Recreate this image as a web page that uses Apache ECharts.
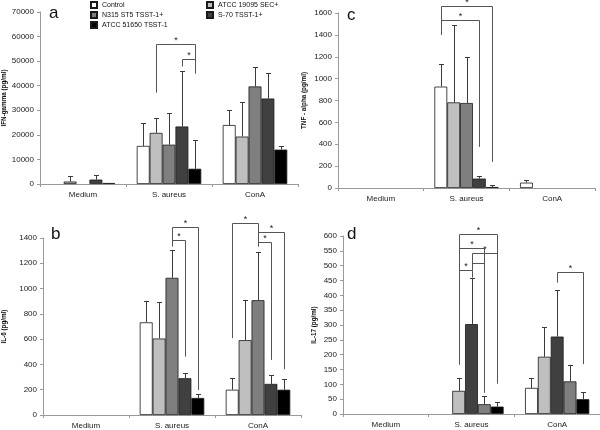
<!DOCTYPE html>
<html><head><meta charset="utf-8">
<script src="https://cdn.jsdelivr.net/npm/echarts@6/dist/echarts.min.js"></script>
<style>html,body{margin:0;padding:0;background:#fff}#c{width:600px;height:430px}</style>
</head><body><div id="c"></div>
<script>
const categories = ['Medium', 'S. aureus', 'ConA'];
const seriesNames = ['Control', 'ATCC 19095 SEC+', 'N315 ST5 TSST-1+', 'S-70 TSST-1+', 'ATCC 51650 TSST-1'];

// a: IFN-gamma (per series, per category)
const ifnMeans = [[null, 15500, 24000], [1000, 20800, 19300], [null, 16000, 39700], [1800, 23400, 34800], [400, 6200, 14000]];
const ifnErrTop = [[null, 25000, 30300], [3400, 26700, 33500], [null, 29000, 47800], [3500, 46000, 45300], [null, 18000, 15600]];
// brackets: [category, fromSeries, toSeries, top, leftBottom, rightBottom, star]
const ifnBrackets = [[1, 1, 4, 57000, 37200, 45000, 1], [1, 3, 4, 50800, 47800, 45000, 1]];

// b: IL-6
const il6Means = [[null, 733, 200], [null, 605, 592], [null, 1085, 908], [null, 291, 246], [null, 135, 200]];
const il6ErrTop = [[null, 905, 290], [null, 893, 910], [null, 1307, 1286], [null, 335, 317], [null, 163, 288]];
const il6Brackets = [[1, 2, 4, 1487, 1334, 198, 1], [1, 2, 3, 1381, 1334, 462, 1],
  [2, 0, 2, 1519, 608, 1334, 1], [2, 2, 4, 1445, 1334, 362, 1], [2, 2, 3, 1365, 1334, 436, 1]];

// c: TNF-alpha
const tnfMeans = [[null, 927, 49], [null, 783, null], [null, 777, null], [null, 86, null], [null, 9, null]];
const tnfErrTop = [[null, 1132, 76], [null, 1493, null], [null, 1202, null], [null, 110, null], [null, 30, null]];
const tnfBrackets = [[1, 0, 4, 1667, 1401, 239, 1], [1, 0, 3, 1532, 1401, 376, 1]];

// d: IL-17
const il17Means = [[null, null, 88], [null, 78, 193], [null, 303, 261], [null, 33, 110], [null, 25, 50]];
const il17ErrTop = [[null, null, 120], [null, 123, 292], [null, 460, 419], [null, 62, 164], [null, 42, 73]];
const il17Brackets = [[1, 1, 4, 607, 167, 103, 1], [1, 1, 3, 558, 167, 72, 1], [1, 2, 4, 544, 485, 103, 1],
  [1, 2, 3, 510, 485, 72, 0], [1, 1, 2, 485, 167, 460, 1], [2, 2, 4, 478, 443, 168, 1]];

const stdColors = ['#ffffff', '#bfbfbf', '#7f7f7f', '#404040', '#000000'];
const dColors = ['#ffffff', '#bfbfbf', '#404040', '#7f7f7f', '#000000'];
const FONT = 'Liberation Sans';

const panels = [
  { letter: 'a', means: ifnMeans, errs: ifnErrTop, brackets: ifnBrackets, max: 70000, interval: 10000,
    name: 'IFN-gamma (pg/ml)', nameGap: 33, colors: stdColors,
    grid: { left: 40, top: 12, width: 258, height: 172 }, lpos: { left: 49, top: 5 } },
  { letter: 'c', means: tnfMeans, errs: tnfErrTop, brackets: tnfBrackets, max: 1600, interval: 200,
    name: 'TNF - alpha (pg/ml)', nameGap: 31, colors: stdColors,
    grid: { left: 338, top: 13, width: 257, height: 175 }, lpos: { left: 347, top: 7 } },
  { letter: 'b', means: il6Means, errs: il6ErrTop, brackets: il6Brackets, max: 1400, interval: 200,
    name: 'IL-6 (pg/ml)', nameGap: 36, colors: stdColors,
    grid: { left: 43, top: 238, width: 258, height: 177 }, lpos: { left: 51, top: 226 } },
  { letter: 'd', means: il17Means, errs: il17ErrTop, brackets: il17Brackets, max: 600, interval: 50,
    name: 'IL-17 (pg/ml)', nameGap: 26, colors: dColors,
    grid: { left: 343, top: 236, width: 257, height: 178 }, lpos: { left: 347, top: 226 } }
];

function barX(api, cat, si) {
  const band = api.size([1, 0])[0];
  return api.coord([cat, 0])[0] + (si - 2) * band * 0.15;
}
function errRender(params, api) {
  const cat = api.value(0), si = api.value(1);
  const cx = Math.round(barX(api, cat, si)) + 0.5;
  const y1 = api.coord([cat, api.value(2)])[1];
  const y2 = Math.round(api.coord([cat, api.value(3)])[1]) + 0.5;
  const st = { stroke: '#3a3a3a', lineWidth: 1 };
  return { type: 'group', children: [
    { type: 'line', shape: { x1: cx, y1: y1, x2: cx, y2: y2 }, style: st },
    { type: 'line', shape: { x1: cx - 2.5, y1: y2, x2: cx + 2.5, y2: y2 }, style: st }
  ] };
}
function bracketRender(params, api) {
  const cat = api.value(0);
  const x1 = Math.round(barX(api, cat, api.value(1))) + 0.5;
  const x2 = Math.round(barX(api, cat, api.value(2))) + 0.5;
  const yT = Math.round(api.coord([cat, api.value(3)])[1]) + 0.5;
  const yL = api.coord([cat, api.value(4)])[1];
  const yR = api.coord([cat, api.value(5)])[1];
  const children = [
    { type: 'polyline', shape: { points: [[x1, yL], [x1, yT], [x2, yT], [x2, yR]] },
      style: { stroke: '#555', lineWidth: 1, fill: null } }
  ];
  if (api.value(6)) {
    children.push({ type: 'text', style: { text: '*', x: (x1 + x2) / 2, y: yT + 1, align: 'center',
      verticalAlign: 'bottom', fontSize: 9, fontFamily: FONT, fill: '#222' } });
  }
  return { type: 'group', children: children };
}

const grids = [], xAxes = [], yAxes = [], series = [], titles = [];
panels.forEach((p, pi) => {
  grids.push(Object.assign({ containLabel: false }, p.grid));
  xAxes.push({ type: 'category', gridIndex: pi, data: categories,
    axisLine: { lineStyle: { color: '#9a9a9a', width: 1 } },
    axisTick: { show: true, length: 3, lineStyle: { color: '#9a9a9a' } },
    axisLabel: { fontSize: 8, color: '#222', fontFamily: FONT, margin: 7 } });
  yAxes.push({ type: 'value', gridIndex: pi, min: 0, max: p.max, interval: p.interval,
    name: p.name, nameLocation: 'middle', nameGap: p.nameGap,
    nameTextStyle: { fontSize: 6.3, fontWeight: 'bold', color: '#111', fontFamily: FONT },
    axisLine: { show: true, lineStyle: { color: '#9a9a9a', width: 1 } },
    axisTick: { show: true, length: 3, lineStyle: { color: '#9a9a9a' } },
    splitLine: { show: false },
    axisLabel: { fontSize: 8, color: '#222', fontFamily: FONT, margin: 6, formatter: v => String(v) } });
  seriesNames.forEach((nm, si) => {
    series.push({ type: 'bar', name: nm, xAxisIndex: pi, yAxisIndex: pi, data: p.means[si],
      barGap: '0%', barCategoryGap: '25%',
      itemStyle: { color: p.colors[si], borderColor: '#1a1a1a', borderWidth: 0.8 },
      emphasis: { disabled: true }, animation: false });
  });
  const errData = [];
  p.means.forEach((arr, si) => arr.forEach((v, ci) => {
    if (v != null && p.errs[si][ci] != null) errData.push([ci, si, v, p.errs[si][ci]]);
  }));
  series.push({ type: 'custom', xAxisIndex: pi, yAxisIndex: pi, data: errData, renderItem: errRender,
    encode: { x: 0, y: [2, 3] }, z: 5, animation: false, silent: true });
  series.push({ type: 'custom', xAxisIndex: pi, yAxisIndex: pi, data: p.brackets, renderItem: bracketRender,
    encode: { x: 0, y: [3, 4, 5] }, z: 6, animation: false, silent: true, clip: false });
  titles.push({ text: p.letter, left: p.lpos.left, top: p.lpos.top, padding: 0,
    textStyle: { fontSize: 17, fontWeight: 'normal', color: '#111', fontFamily: FONT } });
});

const legendCommon = { orient: 'vertical', itemWidth: 6, itemHeight: 6, itemGap: 0, padding: 0,
  icon: 'rect', selectedMode: false,
  textStyle: { fontSize: 7, color: '#111', fontFamily: FONT, lineHeight: 10 } };

const chart = echarts.init(document.getElementById('c'), null, { renderer: 'canvas' });
chart.setOption({
  animation: false,
  backgroundColor: '#ffffff',
  title: titles,
  legend: [
    Object.assign({ left: 90, top: 0, data: [seriesNames[0], seriesNames[2], seriesNames[4]] }, legendCommon),
    Object.assign({ left: 206, top: 0, data: [seriesNames[1], seriesNames[3]] }, legendCommon)
  ],
  grid: grids, xAxis: xAxes, yAxis: yAxes, series: series
});
</script></body></html>
